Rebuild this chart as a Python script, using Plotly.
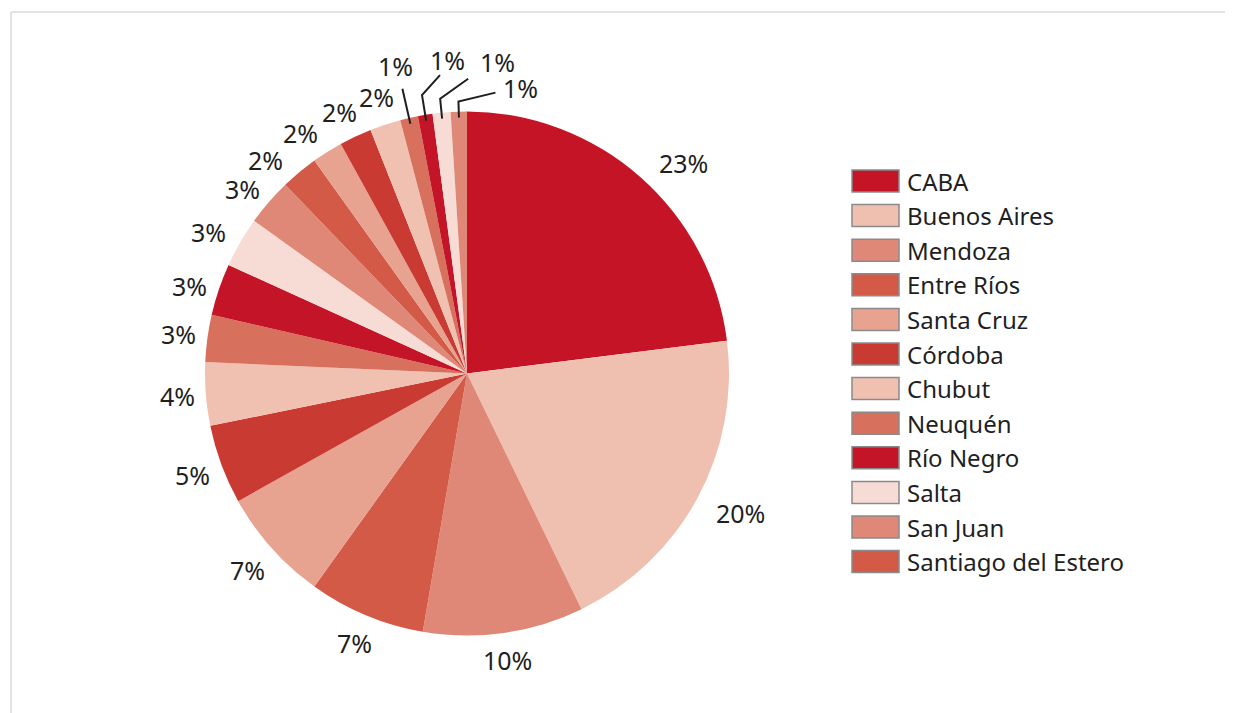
import math
import plotly.graph_objects as go

# ---- data ----
legend_names = ["CABA", "Buenos Aires", "Mendoza", "Entre Ríos", "Santa Cruz", "Córdoba",
                "Chubut", "Neuquén", "Río Negro", "Salta", "San Juan", "Santiago del Estero"]
other_names = ["Otra 1", "Otra 2", "Otra 3", "Otra 4", "Otra 5", "Otra 6", "Otra 7"]
slice_values = [23, 19.8, 9.9, 7.2, 7.0, 4.9, 3.9, 2.9, 3.2, 3.1, 2.9, 2.3,
                1.9, 2.0, 1.9, 1.1, 0.9, 1.1, 1.0]
slice_labels_text = ["23%", "20%", "10%", "7%", "7%", "5%", "4%", "3%", "3%", "3%", "3%", "2%",
                     "2%", "2%", "2%", "1%", "1%", "1%", "1%"]
slice_colors = ["#c41425", "#efc0b0", "#e08878", "#d45a48", "#e8a290", "#c93a33",
                "#f0c0b0", "#d8705e", "#c41427", "#f7dcd5", "#e08878", "#d45a48",
                "#e8a290", "#c93a33", "#f0c0b0", "#d8705e", "#c41427", "#f7dcd5", "#e08878"]

# ---- layout constants (pixels in the page; OFF = default body margin of the html page) ----
W, H = 1233, 713
OFF = 8
FONT = "Noto Sans"
TXT = "#1f1f1f"
CX, CY, R = 467, 373.5, 262
FS_LAB = 25
FS_LEG = 24
GAP = 9

# leader-line layout for the crowded small slices (index: elbow radius, end offset, label offset)
leader_layout = {
    15: dict(r_el=292, end=(0, 0), lab=(-7, -23)),
    16: dict(r_el=282, end=(18, -20), lab=(7, -15)),
    17: dict(r_el=276, end=(28, -20), lab=(29, -17)),
    18: dict(r_el=272, end=(37, -9), lab=(25, -5)),
}
# small label nudges (pixels) to avoid crowding
label_nudge = {0: (19, 14), 1: (9, -3), 8: (0, 6), 9: (-4, 6), 10: (-2, 8),
               11: (-13, 12), 12: (-10, 8), 13: (-3, 3)}


def px(x):
    return (x - OFF) / W


def py(y):
    return 1 - (y - OFF) / H


fig = go.Figure()
fig.add_trace(go.Pie(
    labels=legend_names + other_names,
    values=slice_values,
    textinfo="none",
    sort=False,
    direction="clockwise",
    rotation=0,
    marker=dict(colors=slice_colors, line=dict(width=0)),
    showlegend=False,
    hovertext=slice_labels_text,
    hoverinfo="label+text",
    domain=dict(x=[px(CX - R), px(CX + R)], y=[py(CY + R), py(CY - R)]),
))

shapes = []
annotations = []
# frame (top and left edges visible)
shapes.append(dict(type="line", xref="paper", yref="paper", x0=px(11), x1=1, y0=py(12), y1=py(12),
                   line=dict(color="#e3e3e3", width=2)))
shapes.append(dict(type="line", xref="paper", yref="paper", x0=px(11), x1=px(11), y0=0, y1=py(12),
                   line=dict(color="#e3e3e3", width=2)))

# slice labels placed from the data (mid-angle of each slice)
total = sum(slice_values)
cum = 0.0
for i, (v, t) in enumerate(zip(slice_values, slice_labels_text)):
    mid = (cum + v / 2) / total * 2 * math.pi
    cum += v
    ux, uy = math.sin(mid), -math.cos(mid)
    if i in leader_layout:
        L = leader_layout[i]
        sx, sy = CX + (R - 6) * ux, CY + (R - 6) * uy
        ex, ey = CX + L["r_el"] * ux, CY + L["r_el"] * uy
        fx, fy = ex + L["end"][0], ey + L["end"][1]
        path = f"M {px(sx)} {py(sy)} L {px(ex)} {py(ey)} L {px(fx)} {py(fy)}"
        shapes.append(dict(type="path", xref="paper", yref="paper", path=path,
                           line=dict(color=TXT, width=2)))
        lx, ly = fx + L["lab"][0], fy + L["lab"][1]
    else:
        nd = len(t) - 1
        w = 0.58 * FS_LAB * nd + 0.85 * FS_LAB
        h = 1.2 * FS_LAB
        ext = abs(ux) * w / 2 + abs(uy) * h / 2
        r = R + GAP + ext
        lx, ly = CX + r * ux, CY + r * uy
        dx, dy = label_nudge.get(i, (0, 0))
        lx, ly = lx + dx, ly + dy
    annotations.append(dict(xref="paper", yref="paper", x=px(lx), y=py(ly), text=t,
                            showarrow=False, xanchor="center", yanchor="middle",
                            font=dict(family=FONT, size=FS_LAB, color=TXT)))

# custom legend (first twelve categories)
row0, step = 181, 34.6
for i, name in enumerate(legend_names):
    yc = row0 + i * step
    shapes.append(dict(type="rect", xref="paper", yref="paper",
                       x0=px(852), x1=px(899), y0=py(yc + 11), y1=py(yc - 11),
                       fillcolor=slice_colors[i], line=dict(color="#8a8a8a", width=1.5)))
    annotations.append(dict(xref="paper", yref="paper", x=px(905), y=py(yc),
                            text=name, showarrow=False, xanchor="left", yanchor="middle",
                            font=dict(family=FONT, size=FS_LEG, color=TXT)))

fig.update_layout(
    width=W, height=H,
    margin=dict(l=0, r=0, t=0, b=0, autoexpand=False),
    paper_bgcolor="white",
    plot_bgcolor="white",
    shapes=shapes,
    annotations=annotations,
)

fig.write_html("out.html")
